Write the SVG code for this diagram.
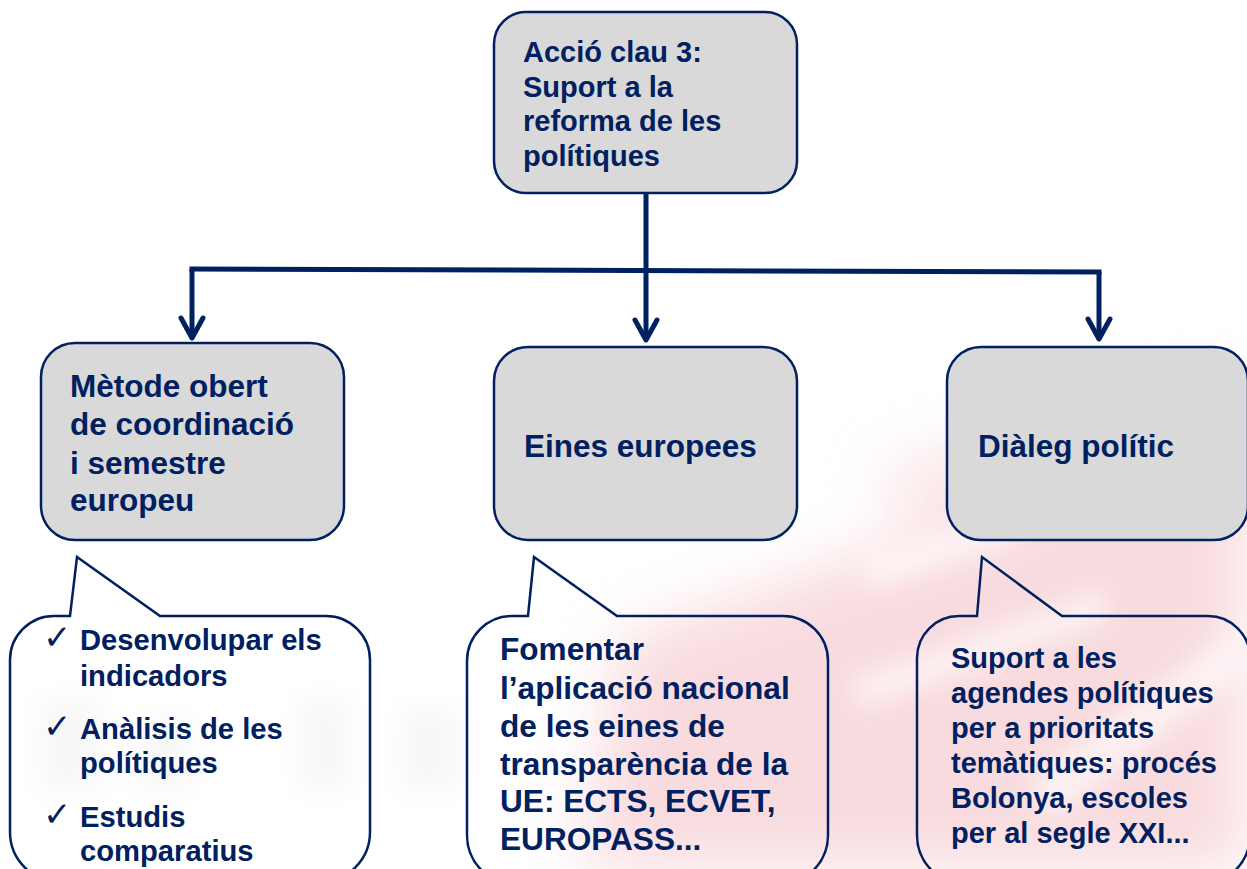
<svg xmlns="http://www.w3.org/2000/svg" width="1247" height="869" viewBox="0 0 1247 869">
<defs>
<style>
.box{fill:#d9d9d9;stroke:#002060;stroke-width:2.5}
.call{fill:none;stroke:#002060;stroke-width:2.5;stroke-linejoin:miter}
.t{font-family:"Liberation Sans",Arial,sans-serif;font-weight:bold;fill:#002060}
.t29{font-size:29px}
.t31{font-size:31.5px}
.c1{font-size:29.2px}
.c2{font-size:31.6px}
.c3{font-size:29px}
.chk{font-family:"DejaVu Sans",sans-serif;font-size:34px;fill:#002060}
.conn{fill:none;stroke:#002060;stroke-width:5;stroke-linecap:butt;stroke-linejoin:miter}
</style>
<marker id="arr" viewBox="-26 -15 30 30" refX="0" refY="0" markerWidth="30" markerHeight="30" markerUnits="userSpaceOnUse" orient="auto">
<path d="M-20,-11 L0,0 L-20,11" fill="none" stroke="#002060" stroke-width="5" stroke-linecap="round" stroke-linejoin="round"/>
</marker>
<filter id="blur" x="-30%" y="-30%" width="160%" height="160%"><feGaussianBlur stdDeviation="30"/></filter>
<filter id="blur2" x="-30%" y="-30%" width="160%" height="160%"><feGaussianBlur stdDeviation="12"/></filter>
</defs>
<rect width="1247" height="869" fill="#ffffff"/>
<g id="watermark">
<g filter="url(#blur)" opacity="0.5">
<polygon points="620,640 1247,420 1247,869 580,869" fill="#f2b8bf"/>
<polygon points="880,470 1247,380 1247,440 900,520" fill="#f4c4c9"/>
</g>
<g filter="url(#blur2)" opacity="0.6">
<polygon points="860,560 1010,510 1020,540 870,590" fill="#ffffff"/>
<polygon points="850,680 1100,590 1110,620 860,710" fill="#ffffff"/>
<polygon points="1030,780 1247,620 1247,670 1050,820" fill="#ffffff"/>
</g>
<g filter="url(#blur2)" opacity="0.07" fill="#9a9a9a">
<rect x="40" y="700" width="60" height="90"/>
<rect x="140" y="720" width="50" height="70"/>
<rect x="300" y="700" width="50" height="90"/>
<rect x="400" y="710" width="60" height="80"/>
</g>
</g>
<g id="connectors">
<path class="conn" d="M646,193 L646,340" marker-end="url(#arr)"/>
<path class="conn" d="M189.5,269 L1101.5,272"/>
<path class="conn" d="M192,269 L192,338" marker-end="url(#arr)"/>
<path class="conn" d="M1099,272 L1099,339" marker-end="url(#arr)"/>
</g>
<g id="node-top">
<rect class="box" x="494" y="12" width="303" height="181" rx="32"/>
<text class="t t29" x="523" y="62">Acció clau 3:</text>
<text class="t t29" x="523" y="97">Suport a la</text>
<text class="t t29" x="523" y="131">reforma de les</text>
<text class="t t29" x="523" y="166">polítiques</text>
</g>
<g id="node-metode">
<rect class="box" x="41" y="343" width="303" height="197" rx="34"/>
<text class="t t31" x="70" y="397">Mètode obert</text>
<text class="t t31" x="70" y="435">de coordinació</text>
<text class="t t31" x="70" y="474">i semestre</text>
<text class="t t31" x="70" y="511">europeu</text>
</g>
<g id="node-eines">
<rect class="box" x="494" y="347" width="303" height="193" rx="34"/>
<text class="t t31" x="524" y="457">Eines europees</text>
</g>
<g id="node-dialeg">
<rect class="box" x="947" y="347" width="301" height="193" rx="34"/>
<text class="t t31" x="978" y="457">Diàleg polític</text>
</g>
<g id="callout-metode">
<path class="call" d="M10,660 A44,44 0 0 1 54,616 L70,616 L77,557 L160,616 L326,616 A44,44 0 0 1 370,660 L370,832 A50,50 0 0 1 320,882 L60,882 A50,50 0 0 1 10,832 Z"/>
<text class="chk" x="43" y="649">✓</text>
<text class="t c1" x="80" y="650">Desenvolupar els</text>
<text class="t c1" x="80" y="686">indicadors</text>
<text class="chk" x="43" y="738">✓</text>
<text class="t c1" x="80" y="739">Anàlisis de les</text>
<text class="t c1" x="80" y="773">polítiques</text>
<text class="chk" x="43" y="826">✓</text>
<text class="t c1" x="80" y="827">Estudis</text>
<text class="t c1" x="80" y="861">comparatius</text>
</g>
<g id="callout-eines">
<path class="call" d="M467,661 A45,45 0 0 1 512,616 L528,616 L534,557 L617,616 L783,616 A45,45 0 0 1 828,661 L828,835 A50,50 0 0 1 778,885 L517,885 A50,50 0 0 1 467,835 Z"/>
<text class="t c2" x="500" y="660">Fomentar</text>
<text class="t c2" x="500" y="699">l’aplicació nacional</text>
<text class="t c2" x="500" y="737">de les eines de</text>
<text class="t c2" x="500" y="775">transparència de la</text>
<text class="t c2" x="500" y="812">UE: ECTS, ECVET,</text>
<text class="t c2" x="500" y="850">EUROPASS...</text>
</g>
<g id="callout-dialeg">
<path class="call" d="M917,658 A42,42 0 0 1 959,616 L977,616 L982,557 L1062,616 L1208,616 A42,42 0 0 1 1250,658 L1250,835 A50,50 0 0 1 1200,885 L967,885 A50,50 0 0 1 917,835 Z"/>
<text class="t c3" x="951" y="668">Suport a les</text>
<text class="t c3" x="951" y="703">agendes polítiques</text>
<text class="t c3" x="951" y="738">per a prioritats</text>
<text class="t c3" x="951" y="773">temàtiques: procés</text>
<text class="t c3" x="951" y="808">Bolonya, escoles</text>
<text class="t c3" x="951" y="843">per al segle XXI...</text>
</g>
</svg>
